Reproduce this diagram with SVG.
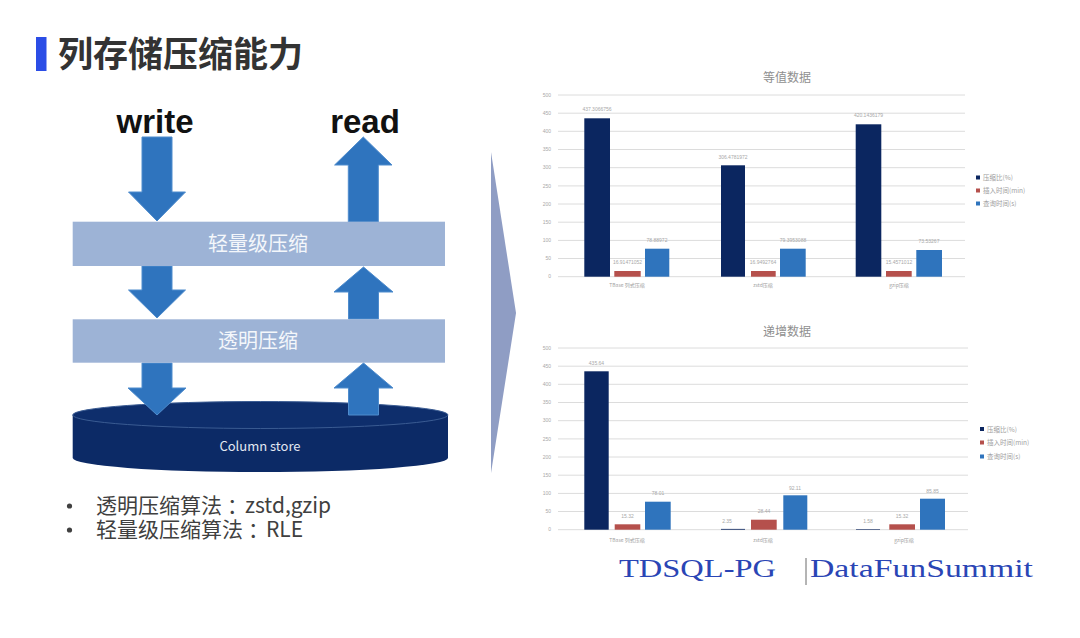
<svg xmlns="http://www.w3.org/2000/svg" width="1080" height="638" viewBox="0 0 1080 638">
<style>
.cjk{font-family:"Noto Sans CJK SC","Noto Sans",sans-serif}
.band{fill:#9db3d6}
.bandtxt{font-family:"Noto Sans CJK SC",sans-serif;font-size:20px;fill:#f4f7fb;text-anchor:middle}
.arrow{fill:#2f74be;stroke:#4f8ccd;stroke-width:1}
.grid{stroke:#dcdcdc;stroke-width:1}
.ax{font-family:"Liberation Sans",sans-serif;font-size:5px;fill:#a8a8a8;text-anchor:end}
.lbl{font-family:"Liberation Sans",sans-serif;font-size:5px;fill:#a8a8a8;text-anchor:middle}
.cat{font-family:"Noto Sans CJK SC",sans-serif;font-size:5px;fill:#a0a0a0;text-anchor:middle}
.leg{font-family:"Noto Sans CJK SC",sans-serif;font-size:6.5px;fill:#a0a0a0}
.ctitle{font-family:"Noto Sans CJK SC",sans-serif;font-size:12px;fill:#8f8f8f;text-anchor:middle}
.dk{fill:#0b2660}
.rd{fill:#b5504c}
.bl{fill:#2f74bd}
.bullet{font-family:"Noto Sans CJK SC",sans-serif;font-size:21px;fill:#404040}
.brand{font-family:"Liberation Serif",serif;font-size:26px;fill:#2a45b5}
</style>
<rect width="1080" height="638" fill="#ffffff"/>

<g id="title">
<rect x="36" y="37" width="10.5" height="34" fill="#2b4de6"/>
<text x="58" y="67" class="cjk" font-size="35" font-weight="bold" fill="#333333">列存储压缩能力</text>
</g>

<g id="labels-io">
<text x="155" y="133" font-family="Liberation Sans,sans-serif" font-size="33" font-weight="bold" fill="#111111" text-anchor="middle">write</text>
<text x="365" y="133" font-family="Liberation Sans,sans-serif" font-size="33" font-weight="bold" fill="#111111" text-anchor="middle">read</text>
</g>

<g id="node-cylinder">
<path d="M72.7,415 L72.7,458 A187.65,14 0 0 0 448,458 L448,415 Z" fill="#0c2a66"/>
<ellipse cx="260.35" cy="415" rx="187.65" ry="13.5" fill="#0e2e6c" stroke="#3a5b92" stroke-width="1"/>
<text x="260" y="451" font-family="Noto Sans CJK SC,sans-serif" font-size="13" fill="#e2e8f2" text-anchor="middle">Column store</text>
</g>

<g id="connectors">
<polygon class="arrow" points="142,137 172,137 172,192 185.5,192 157,221 128.5,192 142,192"/>
<polygon class="arrow" points="142,266 172,266 172,290 185.5,290 157,318 128.5,290 142,290"/>
<polygon class="arrow" points="142,363 172,363 172,388 186,388 157,415 128,388 142,388"/>
<polygon class="arrow" points="363.3,137 392,165 378.3,165 378.3,222 348.3,222 348.3,165 334.6,165"/>
<polygon class="arrow" points="363.5,267 393,292 378.5,292 378.5,319 348.5,319 348.5,292 334,292"/>
<polygon class="arrow" points="363.5,363 393,388 378.5,388 378.5,415 348.5,415 348.5,388 334,388"/>
</g>

<g id="node-light">
<rect class="band" x="72.7" y="221.7" width="372.3" height="44.3"/>
<text class="bandtxt" x="258" y="251">轻量级压缩</text>
</g>

<g id="node-transparent">
<rect class="band" x="72.7" y="319.3" width="372.3" height="43.4"/>
<text class="bandtxt" x="258" y="348">透明压缩</text>
</g>

<g id="bullets">
<circle cx="69.5" cy="506" r="2.6" fill="#404040"/>
<circle cx="69.5" cy="530" r="2.6" fill="#404040"/>
<text class="bullet"><tspan x="96" y="513">透明压缩算法<tspan dx="5">：</tspan><tspan dx="-3">zstd,gzip</tspan></tspan><tspan x="96" y="537">轻量级压缩算法<tspan dx="5">：</tspan><tspan dx="-3">RLE</tspan></tspan></text>
</g>

<g id="chevron">
<polygon points="491,152 516,313 491,473" fill="#8f9dc4"/>
</g>

<g id="chart-top">
<text class="ctitle" x="787" y="82">等值数据</text>
<g>
<line class="grid" x1="558" y1="95" x2="965" y2="95"/>
<line class="grid" x1="558" y1="113.2" x2="965" y2="113.2"/>
<line class="grid" x1="558" y1="131.3" x2="965" y2="131.3"/>
<line class="grid" x1="558" y1="149.5" x2="965" y2="149.5"/>
<line class="grid" x1="558" y1="167.7" x2="965" y2="167.7"/>
<line class="grid" x1="558" y1="185.9" x2="965" y2="185.9"/>
<line class="grid" x1="558" y1="204" x2="965" y2="204"/>
<line class="grid" x1="558" y1="222.2" x2="965" y2="222.2"/>
<line class="grid" x1="558" y1="240.4" x2="965" y2="240.4"/>
<line class="grid" x1="558" y1="258.5" x2="965" y2="258.5"/>
<line class="grid" x1="558" y1="276.7" x2="965" y2="276.7"/>
</g>
<g>
<text class="ax" x="551" y="96.7">500</text>
<text class="ax" x="551" y="114.9">450</text>
<text class="ax" x="551" y="133">400</text>
<text class="ax" x="551" y="151.2">350</text>
<text class="ax" x="551" y="169.4">300</text>
<text class="ax" x="551" y="187.6">250</text>
<text class="ax" x="551" y="205.7">200</text>
<text class="ax" x="551" y="223.9">150</text>
<text class="ax" x="551" y="242.1">100</text>
<text class="ax" x="551" y="260.2">50</text>
<text class="ax" x="551" y="278.4">0</text>
</g>
<rect class="dk" x="584.3" y="118.3" width="25.7" height="158.4"/>
<rect class="rd" x="614.3" y="271" width="26.4" height="5.7"/>
<rect class="bl" x="645" y="248.7" width="24.3" height="28"/>
<rect class="dk" x="721" y="165.3" width="24" height="111.4"/>
<rect class="rd" x="751" y="271" width="24.7" height="5.7"/>
<rect class="bl" x="780" y="248.7" width="25.7" height="28"/>
<rect class="dk" x="855.7" y="124.3" width="25.6" height="152.4"/>
<rect class="rd" x="886" y="271" width="25.7" height="5.7"/>
<rect class="bl" x="916.3" y="250" width="25.7" height="26.7"/>
<text class="lbl" x="597" y="111">437.3066756</text>
<text class="lbl" x="627.5" y="264">16.91471052</text>
<text class="lbl" x="657" y="242">78.88972</text>
<text class="lbl" x="733" y="159">306.4781972</text>
<text class="lbl" x="763" y="264">16.9492764</text>
<text class="lbl" x="793" y="242">79.3953088</text>
<text class="lbl" x="868.5" y="117">420.1436179</text>
<text class="lbl" x="899" y="264">15.4571012</text>
<text class="lbl" x="929" y="243">73.53267</text>
<text class="cat" x="627" y="287">TBase 列式压缩</text>
<text class="cat" x="763" y="287">zstd压缩</text>
<text class="cat" x="899" y="287">gzip压缩</text>
<rect class="dk" x="976" y="175.5" width="4" height="4"/>
<text class="leg" x="983" y="180.3">压缩比(%)</text>
<rect class="rd" x="976" y="188.5" width="4" height="4"/>
<text class="leg" x="983" y="193.3">插入时间(min)</text>
<rect class="bl" x="976" y="201.5" width="4" height="4"/>
<text class="leg" x="983" y="206.3">查询时间(s)</text>
</g>

<g id="chart-bottom">
<text class="ctitle" x="787" y="336">递增数据</text>
<g>
<line class="grid" x1="558" y1="348" x2="968" y2="348"/>
<line class="grid" x1="558" y1="366.2" x2="968" y2="366.2"/>
<line class="grid" x1="558" y1="384.3" x2="968" y2="384.3"/>
<line class="grid" x1="558" y1="402.5" x2="968" y2="402.5"/>
<line class="grid" x1="558" y1="420.7" x2="968" y2="420.7"/>
<line class="grid" x1="558" y1="438.9" x2="968" y2="438.9"/>
<line class="grid" x1="558" y1="457" x2="968" y2="457"/>
<line class="grid" x1="558" y1="475.2" x2="968" y2="475.2"/>
<line class="grid" x1="558" y1="493.4" x2="968" y2="493.4"/>
<line class="grid" x1="558" y1="511.5" x2="968" y2="511.5"/>
<line class="grid" x1="558" y1="529.7" x2="968" y2="529.7"/>
</g>
<g>
<text class="ax" x="551" y="349.7">500</text>
<text class="ax" x="551" y="367.9">450</text>
<text class="ax" x="551" y="386">400</text>
<text class="ax" x="551" y="404.2">350</text>
<text class="ax" x="551" y="422.4">300</text>
<text class="ax" x="551" y="440.6">250</text>
<text class="ax" x="551" y="458.7">200</text>
<text class="ax" x="551" y="476.9">150</text>
<text class="ax" x="551" y="495.1">100</text>
<text class="ax" x="551" y="513.2">50</text>
<text class="ax" x="551" y="531.4">0</text>
</g>
<rect class="dk" x="584.3" y="371.3" width="24.4" height="158.4"/>
<rect class="rd" x="614.7" y="524.3" width="25.6" height="5.4"/>
<rect class="bl" x="645" y="501.7" width="25.7" height="28"/>
<rect class="dk" x="721" y="528.9" width="24" height="0.8"/>
<rect class="rd" x="751" y="519.7" width="25.7" height="10"/>
<rect class="bl" x="783.3" y="495.3" width="24" height="34.4"/>
<rect class="dk" x="856" y="529.1" width="24" height="0.6"/>
<rect class="rd" x="889.3" y="524.3" width="25.7" height="5.4"/>
<rect class="bl" x="920" y="498.7" width="25" height="31"/>
<text class="lbl" x="596.5" y="365">435.64</text>
<text class="lbl" x="627.5" y="518">15.32</text>
<text class="lbl" x="658" y="495">78.01</text>
<text class="lbl" x="727" y="523">2.35</text>
<text class="lbl" x="764" y="513">28.44</text>
<text class="lbl" x="795" y="490">92.11</text>
<text class="lbl" x="868" y="523">1.58</text>
<text class="lbl" x="902" y="518">15.32</text>
<text class="lbl" x="932.5" y="493">85.85</text>
<text class="cat" x="627" y="542">TBase 列式压缩</text>
<text class="cat" x="763" y="542">zstd压缩</text>
<text class="cat" x="904" y="542">gzip压缩</text>
<rect class="dk" x="980" y="427" width="4" height="4"/>
<text class="leg" x="987" y="431.8">压缩比(%)</text>
<rect class="rd" x="980" y="440.5" width="4" height="4"/>
<text class="leg" x="987" y="445.3">插入时间(min)</text>
<rect class="bl" x="980" y="454.5" width="4" height="4"/>
<text class="leg" x="987" y="459.3">查询时间(s)</text>
</g>

<g id="brand">
<text class="brand" x="619" y="577" textLength="157" lengthAdjust="spacingAndGlyphs">TDSQL-PG</text>
<line x1="806" y1="558" x2="806" y2="585" stroke="#6a6a6a" stroke-width="1"/>
<text class="brand" x="810" y="577" textLength="223" lengthAdjust="spacingAndGlyphs">DataFunSummit</text>
</g>
</svg>
